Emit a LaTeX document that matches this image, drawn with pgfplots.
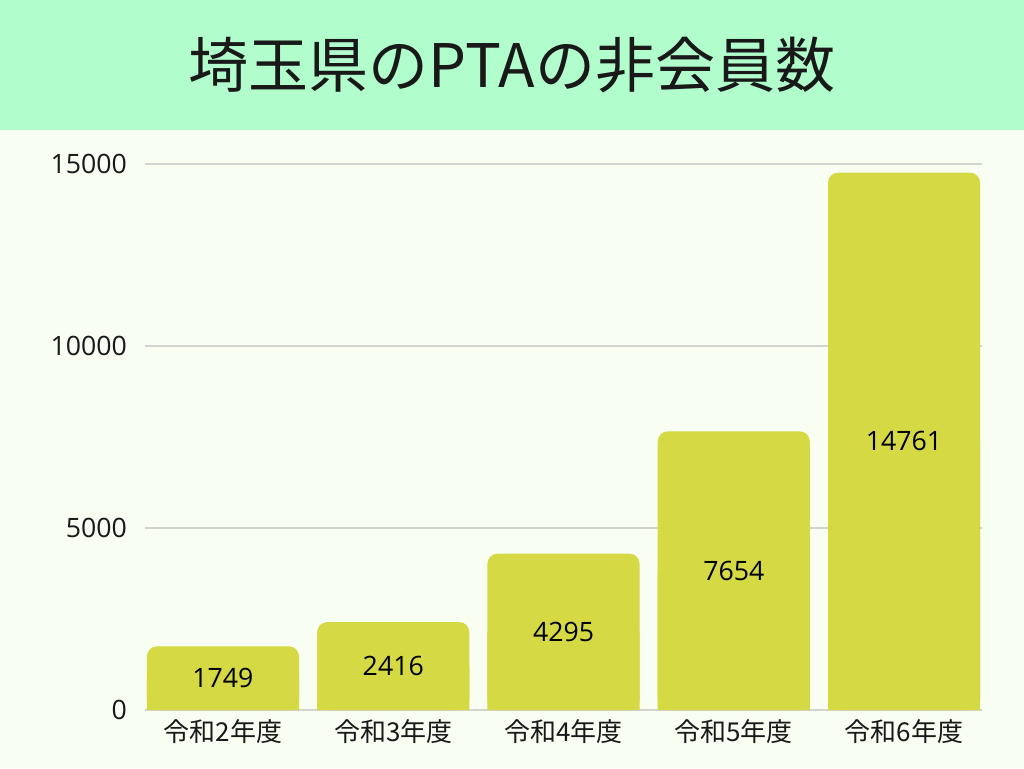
\documentclass[border=0pt]{standalone}
\usepackage{fontspec}
\setmainfont{Open Sans}
\newfontfamily\jp{Noto Sans CJK JP}
\usepackage{pgfplots}
\pgfplotsset{compat=1.18}
\usepackage{pgfplotstable}
\definecolor{band}{HTML}{B1FDCC}
\definecolor{bg}{HTML}{F8FEF1}
\definecolor{barc}{HTML}{D5D944}
\definecolor{gridc}{HTML}{D2D2CE}
\pgfplotstableread{
x v h
0 1749 874.5
1 2416 1208
2 4295 2147.5
3 7654 3827
4 14761 7380.5
}\data
\begin{document}
\begin{tikzpicture}
\fill[bg] (0pt,0pt) rectangle (768pt,576pt);
\fill[band] (0pt,478.5pt) rectangle (768pt,576pt);
\node[font=\jp\fontsize{45}{50}\selectfont, text=black!90] at (384pt,527.25pt) {埼玉県のPTAの非会員数};
\begin{axis}[at={(108.75pt,43.5pt)}, anchor=south west, scale only axis,
  width=627.75pt, height=409.5pt,
  xmin=-0.458, xmax=4.458, ymin=0, ymax=15000,
  scaled ticks=false,
  axis line style={draw=none},
  major tick length=0pt,
  ytick={0,5000,10000,15000},
  ymajorgrids, grid style={gridc, line width=1.1pt},
  xtick={0,1,2,3,4},
  xticklabels={令和2年度,令和3年度,令和4年度,令和5年度,令和6年度},
  xticklabel style={font=\jp\fontsize{19.5}{23}\selectfont, text=black!90, yshift=-4pt},
  yticklabel style={font=\fontsize{20}{24}\selectfont, text=black!90, anchor=east, xshift=-10pt},
  /pgf/number format/.cd, 1000 sep={}, assume math mode=true,
]
\addplot[ybar, bar width=0.893, bar shift=0pt, fill=barc, draw=none, rounded corners=7.5pt] table[x=x,y=v]{\data};
\addplot[ybar, bar width=0.893, bar shift=0pt, fill=barc, draw=none,
  nodes near coords, point meta=\thisrow{v},
  every node near coord/.append style={anchor=center, font=\fontsize{20}{24}\selectfont, text=black}]
  table[x=x,y=h]{\data};
\end{axis}
\end{tikzpicture}
\end{document}
